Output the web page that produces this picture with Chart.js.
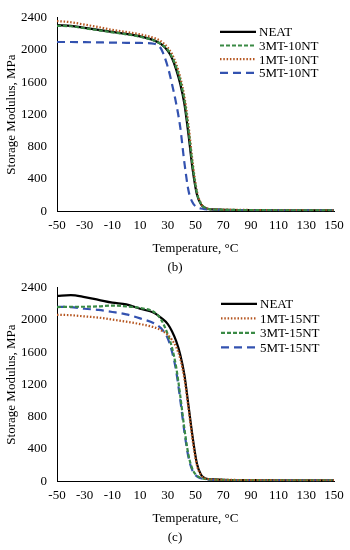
<!DOCTYPE html>
<html>
<head>
<meta charset="utf-8">
<script src="https://cdn.jsdelivr.net/npm/chart.js@4.4.0/dist/chart.umd.min.js"></script>
<style>
  html, body { margin: 0; padding: 0; background: #fff; }
  .caja { position: absolute; left: 0; width: 350px; height: 275px; }
</style>
</head>
<body>
<div class="caja" style="top:0"><canvas id="graficaB"></canvas></div>
<div class="caja" style="top:270px"><canvas id="graficaC"></canvas></div>
<script>
/* Datos (Temperatura en °C, modulo en MPa) */

const temperatura = [-50, -40, -30, -20, -10, 0, 10, 20, 25, 30, 33, 36, 39, 42, 45, 48, 51, 54, 57, 60, 70, 80, 90, 100, 110, 120, 130, 140, 150];

const ticksX = [-50, -30, -10, 10, 30, 50, 70, 90, 110, 130, 150];
const ticksY = [0, 400, 800, 1200, 1600, 2000, 2400];

// (b)
const neatB   = [2310, 2300, 2275, 2250, 2225, 2200, 2170, 2120, 2075, 1990, 1900, 1760, 1580, 1330, 940, 510, 210, 85, 40, 25, 18, 15, 14, 13, 12, 12, 11, 11, 10];
const mt3nt10 = [2300, 2295, 2270, 2245, 2220, 2195, 2165, 2118, 2075, 2000, 1915, 1790, 1620, 1380, 1000, 560, 230, 90, 42, 26, 18, 15, 14, 13, 12, 12, 11, 11, 10];
const mt1nt10 = [2360, 2345, 2315, 2285, 2250, 2225, 2195, 2150, 2110, 2030, 1950, 1830, 1660, 1420, 1060, 600, 250, 95, 45, 28, 20, 17, 15, 14, 13, 13, 12, 12, 11];
const mt5nt10 = [2100, 2100, 2098, 2095, 2092, 2090, 2088, 2078, 2020, 1790, 1580, 1340, 1040, 600, 250, 105, 50, 33, 25, 20, 15, 13, 12, 12, 11, 11, 10, 10, 10];

// (c)
const neatC   = [2300, 2310, 2285, 2250, 2215, 2195, 2140, 2090, 2030, 1950, 1860, 1740, 1570, 1320, 930, 540, 220, 80, 36, 25, 18, 15, 14, 13, 12, 12, 11, 11, 10];
const mt1nt15 = [2065, 2060, 2045, 2030, 2005, 1980, 1950, 1910, 1875, 1815, 1755, 1665, 1520, 1270, 900, 500, 200, 75, 35, 25, 18, 15, 14, 13, 12, 12, 11, 11, 10];
const mt3nt15 = [2160, 2165, 2165, 2170, 2180, 2170, 2150, 2100, 2010, 1820, 1660, 1420, 1060, 650, 320, 140, 70, 40, 28, 22, 16, 14, 13, 12, 12, 11, 11, 10, 10];
const mt5nt15 = [2165, 2160, 2140, 2125, 2100, 2070, 2020, 1960, 1900, 1770, 1610, 1370, 1010, 610, 290, 125, 60, 36, 26, 20, 15, 13, 12, 12, 11, 11, 10, 10, 10];

const fuente = '"Liberation Serif", "Times New Roman", serif';

const estilos = {
  neat:  { borderColor: '#000000', borderDash: [], borderWidth: 2.2 },
  verde: { borderColor: '#3a8a45', borderDash: [4, 2], borderWidth: 2.2 },
  cafe:  { borderColor: '#b5551f', borderDash: [1.5, 1.8], borderWidth: 2.2 },
  azul:  { borderColor: '#3352b0', borderDash: [8, 5], borderWidth: 2.2 }
};

function puntos(valores) {
  return valores.map((v, i) => ({ x: temperatura[i], y: v }));
}

function serie(nombre, valores, estilo) {
  return Object.assign({
    label: nombre,
    data: puntos(valores),
    pointRadius: 0,
    fill: false,
    cubicInterpolationMode: 'monotone'
  }, estilo);
}

// leyenda dibujada a mano dentro del area de la grafica
const leyendaPlugin = {
  id: 'leyenda',
  afterDraw(chart, args, opts) {
    const ctx = chart.ctx;
    const area = chart.chartArea;
    ctx.save();
    ctx.font = '13px ' + fuente;
    ctx.textBaseline = 'middle';
    ctx.textAlign = 'left';
    opts.orden.forEach((idx, i) => {
      const ds = chart.data.datasets[idx];
      const x = area.left + opts.izq;
      const y = area.top + opts.arriba + i * opts.fila;
      ctx.beginPath();
      ctx.setLineDash(ds.borderDash || []);
      ctx.strokeStyle = ds.borderColor;
      ctx.lineWidth = ds.borderWidth;
      ctx.moveTo(x, y);
      ctx.lineTo(x + opts.largo, y);
      ctx.stroke();
      ctx.setLineDash([]);
      ctx.fillStyle = '#000';
      ctx.fillText(ds.label, x + opts.largo + 3, y + 1);
    });
    ctx.restore();
  }
};

function grafica(id, datasets, letra, leyenda) {
  return new Chart(document.getElementById(id), {
    type: 'line',
    data: { datasets: datasets },
    plugins: [leyendaPlugin],
    options: {
      responsive: true,
      maintainAspectRatio: false,
      animation: false,
      layout: { padding: { top: 9, right: 0, bottom: 0, left: 0 } },
      scales: {
        x: {
          type: 'linear',
          min: -50,
          max: 150,
          afterBuildTicks: (s) => { s.ticks = ticksX.map(v => ({ value: v })); },
          afterFit: (s) => { s.paddingRight = 16; },
          grid: { display: false, drawTicks: false },
          border: { display: true, color: '#000', width: 1 },
          ticks: { color: '#000', padding: 7, maxRotation: 0, font: { family: fuente, size: 13 } },
          title: { display: true, text: 'Temperature, °C', color: '#000', padding: 0, font: { family: fuente, size: 13 } }
        },
        y: {
          min: 0,
          max: 2400,
          afterBuildTicks: (s) => { s.ticks = ticksY.map(v => ({ value: v })); },
          afterFit: (s) => { s.width = 57; },
          grid: { display: false, drawTicks: false },
          border: { display: true, color: '#000', width: 1 },
          ticks: { color: '#000', padding: 10, font: { family: fuente, size: 13 }, callback: (v) => String(v) },
          title: { display: true, text: 'Storage Modulus, MPa', color: '#000', padding: { top: 4, bottom: 0 }, font: { family: fuente, size: 13 } }
        }
      },
      plugins: {
        legend: { display: false },
        tooltip: { enabled: false },
        title: {
          display: true,
          position: 'bottom',
          text: letra,
          color: '#000',
          padding: { top: 3, bottom: 0 },
          font: { family: fuente, size: 13, weight: 'normal' }
        },
        leyenda: leyenda
      }
    }
  });
}

grafica('graficaB', [
  serie('3MT-10NT', mt3nt10, estilos.verde),
  serie('1MT-10NT', mt1nt10, estilos.cafe),
  serie('5MT-10NT', mt5nt10, estilos.azul),
  serie('NEAT', neatB, estilos.neat)
], '(b)', { orden: [3, 0, 1, 2], izq: 163, arriba: 14, fila: 13.7, largo: 36 });

grafica('graficaC', [
  serie('1MT-15NT', mt1nt15, estilos.cafe),
  serie('3MT-15NT', mt3nt15, estilos.verde),
  serie('5MT-15NT', mt5nt15, estilos.azul),
  serie('NEAT', neatC, estilos.neat)
], '(c)', { orden: [3, 0, 1, 2], izq: 164, arriba: 16, fila: 14.5, largo: 36 });
</script>
</body>
</html>
